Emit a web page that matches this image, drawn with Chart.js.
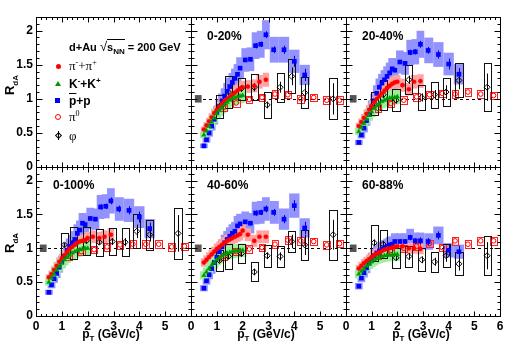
<!DOCTYPE html>
<html>
<head>
<meta charset="utf-8">
<script src="https://cdn.jsdelivr.net/npm/chart.js@4.4.1/dist/chart.umd.min.js"></script>
<style>
  body { margin: 0; background: #fff; }
  #wrap { position: relative; width: 515px; height: 348px; overflow: hidden; font-family: 'Liberation Sans', Arial, sans-serif; }
  canvas { position: absolute; left: 0; top: 0; }
  .t { position: absolute; font-weight: bold; font-size: 12px; line-height: 12px; white-space: nowrap; color: #000; }
  .sym { font-family: 'Liberation Serif', 'Times New Roman', serif; font-weight: normal; font-size: 13px; }
  .t sub, .t sup { font-size: 8px; line-height: 0; }
  .mk { position: absolute; box-sizing: border-box; }
</style>
</head>
<body>
<div id="wrap">
  <canvas id="c0" width="515" height="348"></canvas>
  <canvas id="c1" width="515" height="348"></canvas>
  <canvas id="c2" width="515" height="348"></canvas>
  <canvas id="c3" width="515" height="348"></canvas>
  <canvas id="c4" width="515" height="348"></canvas>
  <canvas id="c5" width="515" height="348"></canvas>

  <!-- legend in the empty top-left pad -->
  <div class="t" style="left:69px;top:41px;font-size:11px;">d+Au <span style="font-weight:normal;font-size:13px;">&#8730;</span><span style="border-top:1px solid #000;padding-top:1px;">s<sub>NN</sub></span> = 200 GeV</div>
  <div class="mk" style="left:56px;top:64px;width:5px;height:5px;border-radius:50%;background:#f00;"></div>
  <div class="t sym" style="left:69px;top:60px;">&pi;<sup>-</sup>+&pi;<sup>+</sup></div>
  <div class="mk" style="left:55px;top:81px;width:0;height:0;border-left:3px solid transparent;border-right:3px solid transparent;border-bottom:5px solid #009a00;"></div>
  <div class="t" style="left:69px;top:78px;">K<sup>-</sup>+K<sup>+</sup></div>
  <div class="mk" style="left:55px;top:98px;width:5px;height:5px;background:#00f;"></div>
  <div class="t" style="left:69px;top:95px;"><span style="text-decoration:overline;">p</span>+p</div>
  <div class="mk" style="left:55px;top:114px;width:6px;height:6px;border-radius:50%;border:1px solid #f00;"></div>
  <div class="t sym" style="left:69px;top:111px;">&pi;<sup>0</sup></div>
  <div class="mk" style="left:56px;top:133px;width:5px;height:5px;border:1px solid #000;transform:rotate(45deg);"></div>
  <div class="mk" style="left:58px;top:131px;width:1px;height:9px;background:#000;"></div>
  <div class="t sym" style="left:69px;top:130px;">&phi;</div>

  <!-- centrality labels -->
  <div class="t" style="left:207px;top:30px;">0-20%</div>
  <div class="t" style="left:362px;top:30px;">20-40%</div>
  <div class="t" style="left:53px;top:179px;">0-100%</div>
  <div class="t" style="left:207px;top:179px;">40-60%</div>
  <div class="t" style="left:362px;top:179px;">60-88%</div>

  <!-- axis titles -->
  <div class="t" style="left:10px;top:85px;font-size:13px;transform:translate(-50%,-50%) rotate(-90deg);">R<sub>dA</sub></div>
  <div class="t" style="left:10px;top:243px;font-size:13px;transform:translate(-50%,-50%) rotate(-90deg);">R<sub>dA</sub></div>
  <div class="t" style="left:111px;top:328px;transform:translateX(-50%);">p<sub>T</sub> (GeV/c)</div>
  <div class="t" style="left:266px;top:328px;transform:translateX(-50%);">p<sub>T</sub> (GeV/c)</div>
  <div class="t" style="left:421px;top:328px;transform:translateX(-50%);">p<sub>T</sub> (GeV/c)</div>
</div>

<script>
// tick labels
const xTicks = [0, 1, 2, 3, 4, 5, 6];
const yTicks = [0, 0.5, 1, 1.5, 2];

// pT bins (GeV/c)
const ptPion = [0.5, 0.6, 0.7, 0.8, 0.9, 1.0, 1.1, 1.2, 1.3, 1.4, 1.5, 1.6, 1.7, 1.8, 1.9, 2.0, 2.2, 2.45, 2.65, 2.9];
const ptKaon = [0.5, 0.6, 0.7, 0.8, 0.9, 1.0, 1.1, 1.2, 1.3, 1.4, 1.5, 1.6, 1.7, 1.8, 1.9, 2.0];
const ptProton = [0.5, 0.6, 0.7, 0.8, 0.9, 1.0, 1.1, 1.2, 1.3, 1.4, 1.5, 1.6, 1.7, 1.8, 1.9, 2.1, 2.3, 2.5, 2.7, 2.9, 3.2, 3.6, 4.0, 4.4];
const ptPi0 = [1.25, 1.75, 2.25, 2.75, 3.25, 3.75, 4.25, 4.75, 5.25, 5.75];
const ptPhi = [1.1, 1.45, 1.95, 2.45, 2.95, 3.45, 3.9, 4.4, 5.5];

// 0-20%
const pi020 = [0.55, 0.61, 0.67, 0.73, 0.79, 0.84, 0.89, 0.93, 0.97, 1.00, 1.03, 1.06, 1.09, 1.12, 1.15, 1.17, 1.18, 1.19, 1.25, 1.28];
const k020 = [0.47, 0.53, 0.60, 0.66, 0.72, 0.78, 0.83, 0.87, 0.91, 0.95, 0.98, 1.00, 1.02, 1.03, 1.04, 1.05];
const p020 = [0.31, 0.40, 0.50, 0.60, 0.70, 0.80, 0.89, 0.97, 1.04, 1.11, 1.18, 1.24, 1.30, 1.36, 1.45, 1.57, 1.58, 1.78, 1.80, 1.94, 1.72, 1.72, 1.55, 1.35];
const pi0020 = [0.87, 0.94, 0.99, 1.02, 1.07, 1.06, 1.00, 1.02, 0.98, 0.98];
const phi020 = [0.89, 1.10, 1.15, 1.17, 0.91, 1.17, 1.33, 1.09, 1.00];
const phiSys020 = [0.17, 0.23, 0.16, 0.19, 0.19, 0.21, 0.25, 0.23, 0.30];
const phiStat020 = [0.04, 0.05, 0.05, 0.06, 0.05, 0.08, 0.13, 0.13, 0.23];

// 20-40%
const pi2040 = [0.60, 0.66, 0.72, 0.78, 0.84, 0.89, 0.95, 1.00, 1.04, 1.08, 1.12, 1.16, 1.19, 1.22, 1.24, 1.25, 1.20, 1.14, 1.25, 1.26];
const k2040 = [0.52, 0.58, 0.64, 0.70, 0.76, 0.81, 0.86, 0.90, 0.93, 0.96, 0.98, 1.00, 1.01, 1.02, 1.02, 1.03];
const p2040 = [0.36, 0.47, 0.57, 0.68, 0.77, 0.88, 0.97, 1.08, 1.17, 1.23, 1.28, 1.33, 1.38, 1.44, 1.42, 1.54, 1.52, 1.68, 1.69, 1.80, 1.71, 1.65, 1.51, 1.36];
const pi02040 = [0.86, 0.93, 0.98, 1.03, 1.06, 1.08, 1.07, 1.10, 1.07, 1.05];
const phi2040 = [0.93, 1.06, 0.98, 1.28, 1.02, 1.06, 1.10, 1.27, 1.17];
const phiSys2040 = [0.17, 0.22, 0.16, 0.21, 0.18, 0.19, 0.21, 0.25, 0.35];
const phiStat2040 = [0.04, 0.05, 0.05, 0.06, 0.06, 0.07, 0.10, 0.13, 0.20];

// 0-100%
const pi0100 = [0.57, 0.62, 0.68, 0.74, 0.80, 0.85, 0.90, 0.95, 0.99, 1.02, 1.05, 1.08, 1.10, 1.11, 1.12, 1.15, 1.17, 1.15, 1.17, 1.20];
const k0100 = [0.50, 0.56, 0.62, 0.68, 0.73, 0.78, 0.83, 0.87, 0.90, 0.93, 0.95, 0.97, 0.98, 0.99, 1.00, 1.00];
const p0100 = [0.35, 0.46, 0.55, 0.63, 0.72, 0.80, 0.88, 0.97, 1.03, 1.08, 1.13, 1.22, 1.27, 1.37, 1.35, 1.44, 1.43, 1.61, 1.62, 1.70, 1.58, 1.56, 1.46, 1.29];
const pi00100 = [0.88, 0.95, 0.98, 1.02, 1.05, 1.06, 1.06, 1.06, 1.02, 1.03];
const phi0100 = [1.05, 1.08, 1.11, 1.09, 1.10, 1.09, 1.25, 1.20, 1.22];
const phiSys0100 = [0.17, 0.24, 0.21, 0.20, 0.20, 0.21, 0.25, 0.22, 0.38];
const phiStat0100 = [0.03, 0.04, 0.04, 0.04, 0.05, 0.06, 0.10, 0.10, 0.27];

// 40-60%
const pi4060 = [0.79, 0.83, 0.87, 0.91, 0.95, 0.99, 1.02, 1.05, 1.08, 1.11, 1.13, 1.15, 1.17, 1.19, 1.21, 1.26, 1.20, 1.11, 1.17, 1.17];
const k4060 = [0.60, 0.65, 0.70, 0.75, 0.79, 0.83, 0.86, 0.89, 0.91, 0.93, 0.94, 0.95, 0.96, 0.96, 0.97, 0.97];
const p4060 = [0.41, 0.52, 0.61, 0.70, 0.79, 0.87, 0.95, 1.02, 1.08, 1.13, 1.18, 1.22, 1.25, 1.33, 1.36, 1.39, 1.37, 1.52, 1.53, 1.58, 1.53, 1.43, 1.63, 1.30];
const pi04060 = [0.88, 0.95, 0.99, 1.01, 1.06, 1.12, 1.11, 1.10, 1.05, 1.07];
const phi4060 = [0.82, 0.88, 0.92, 0.65, 0.89, 0.88, 1.10, 1.05, 1.20];
const phiSys4060 = [0.15, 0.18, 0.14, 0.14, 0.16, 0.16, 0.15, 0.22, 0.37];
const phiStat4060 = [0.03, 0.04, 0.04, 0.05, 0.05, 0.06, 0.10, 0.15, 0.22];

// 60-88%
const pi6088 = [0.70, 0.74, 0.78, 0.81, 0.84, 0.87, 0.90, 0.92, 0.94, 0.96, 0.98, 0.99, 1.00, 1.01, 1.02, 1.03, 1.03, 1.00, 1.00, 0.99];
const k6088 = [0.62, 0.66, 0.70, 0.74, 0.77, 0.80, 0.83, 0.85, 0.87, 0.88, 0.89, 0.90, 0.90, 0.90, 0.91, 0.91];
const p6088 = [0.44, 0.56, 0.64, 0.71, 0.78, 0.84, 0.89, 0.93, 0.96, 0.99, 1.01, 1.03, 1.05, 1.06, 1.10, 1.10, 1.10, 1.16, 1.11, 1.11, 1.10, 1.19, 0.97, 0.95];
const pi06088 = [0.90, 0.97, 1.00, 1.03, 1.07, 1.01, 1.11, 1.06, 1.11, 1.11];
const phi6088 = [1.08, 1.06, 0.86, 0.88, 0.83, 0.80, 0.89, 0.77, 0.89];
const phiSys6088 = [0.27, 0.21, 0.15, 0.15, 0.17, 0.15, 0.17, 0.17, 0.29];
const phiStat6088 = [0.05, 0.05, 0.04, 0.05, 0.05, 0.06, 0.09, 0.10, 0.20];

// proton stat errors (same bins as ptProton)
const pStat = [0, 0, 0, 0, 0, 0, 0, 0, 0, 0, 0, 0, 0, 0, 0.02, 0.03, 0.03, 0.04, 0.04, 0.05, 0.05, 0.06, 0.08, 0.09];

// relative systematics of the bands, pi0 box size, normalisation box
const sysRelPion = 0.08, sysRelKaon = 0.10, sysRelProton = 0.11;
const sysPi0 = 0.055;
const normBox = { x: 0.28, dx: 0.13, dy: 0.055 };

// pad layout
const colEdges = [36, 191, 346, 500];
const rowEdges = [17, 167, 316];

const pts = (xs, ys) => xs.map((x, i) => ({ x, y: ys[i] }));

function halfEdges(xs, i, minHalf) {
  const left = i > 0 ? (xs[i] - xs[i - 1]) / 2 : minHalf;
  const right = i < xs.length - 1 ? (xs[i + 1] - xs[i]) / 2 : left;
  return [xs[i] - Math.max(left, minHalf), xs[i] + Math.max(right, minHalf)];
}

// bands, boxes, unity line, error bars
const boxPlugin = {
  id: 'boxes',
  beforeDatasetsDraw(chart) {
    const { ctx, chartArea: a, scales: { x, y } } = chart;
    if (!chart.options.plugins.boxes.show) return;
    ctx.save();
    ctx.beginPath();
    ctx.rect(a.left, a.top, a.width, a.height);
    ctx.clip();

    // R = 1 reference
    ctx.strokeStyle = '#000';
    ctx.lineWidth = 1;
    ctx.setLineDash([3, 3]);
    const y1 = Math.round(y.getPixelForValue(1)) + 0.5;
    ctx.beginPath();
    ctx.moveTo(a.left, y1);
    ctx.lineTo(a.right, y1);
    ctx.stroke();
    ctx.setLineDash([]);

    // normalisation uncertainty
    ctx.fillStyle = '#555';
    const nx0 = x.getPixelForValue(normBox.x - normBox.dx), nx1 = x.getPixelForValue(normBox.x + normBox.dx);
    const ny0 = y.getPixelForValue(1 + normBox.dy), ny1 = y.getPixelForValue(1 - normBox.dy);
    ctx.fillRect(nx0, ny0, nx1 - nx0, ny1 - ny0);

    const sets = chart.data.datasets.filter(ds => ds.box).sort((p, q) => p.box.layer - q.box.layer);
    sets.forEach(ds => {
      const b = ds.box;
      const xs = ds.data.map(d => d.x);
      ds.data.forEach((d, i) => {
        const [lo, hi] = b.half ? [d.x - b.half, d.x + b.half] : halfEdges(xs, i, b.minHalf);
        const s = b.sys ? b.sys[i] : (b.abs !== undefined ? b.abs : d.y * b.rel);
        let px0 = x.getPixelForValue(lo), px1 = x.getPixelForValue(hi);
        let py0 = y.getPixelForValue(d.y + s), py1 = y.getPixelForValue(d.y - s);
        if (b.fill) {
          ctx.fillStyle = b.fill;
          ctx.fillRect(px0, py0, px1 - px0, py1 - py0);
        } else {
          px0 = Math.round(px0) + 0.5; px1 = Math.round(px1) + 0.5;
          py0 = Math.round(py0) + 0.5; py1 = Math.round(py1) + 0.5;
          ctx.strokeStyle = b.stroke;
          ctx.lineWidth = 1;
          ctx.strokeRect(px0, py0, px1 - px0, py1 - py0);
        }
      });
    });

    // statistical error bars
    chart.data.datasets.filter(ds => ds.stat).forEach(ds => {
      ctx.strokeStyle = ds.statColor;
      ctx.lineWidth = 1;
      ds.data.forEach((d, i) => {
        const e = ds.stat[i];
        if (!e) return;
        const px = Math.round(x.getPixelForValue(d.x)) + 0.5;
        ctx.beginPath();
        ctx.moveTo(px, y.getPixelForValue(d.y + e));
        ctx.lineTo(px, y.getPixelForValue(d.y - e));
        ctx.stroke();
      });
    });
    ctx.restore();
  }
};

// frame with ticks on all four sides, pointing inwards
const framePlugin = {
  id: 'frame',
  afterDraw(chart) {
    const { ctx, chartArea: a, scales: { x, y } } = chart;
    const L = Math.round(a.left) + 0.5, R = Math.round(a.right) + 0.5;
    const T = Math.round(a.top) + 0.5, B = Math.round(a.bottom) + 0.5;
    ctx.save();
    ctx.strokeStyle = '#000';
    ctx.lineWidth = 1;
    ctx.strokeRect(L, T, R - L, B - T);
    ctx.beginPath();
    for (let i = 0; i <= 30; i++) {
      const px = Math.round(x.getPixelForValue(i / 5)) + 0.5;
      const len = i % 5 === 0 ? 5 : 2.5;
      ctx.moveTo(px, B); ctx.lineTo(px, B - len);
      ctx.moveTo(px, T); ctx.lineTo(px, T + len);
    }
    for (let i = 0; i <= 22; i++) {
      const py = Math.round(y.getPixelForValue(i / 10)) + 0.5;
      const len = i % 5 === 0 ? 6 : 3;
      ctx.moveTo(L, py); ctx.lineTo(L + len, py);
      ctx.moveTo(R, py); ctx.lineTo(R - len, py);
    }
    ctx.stroke();
    ctx.restore();
  }
};

function datasetsFor(d) {
  return [
    {
      label: 'K-+K+', data: pts(ptKaon, d.k),
      pointStyle: 'triangle', pointRadius: 2.6, pointBorderWidth: 0.5,
      pointBackgroundColor: '#009a00', pointBorderColor: '#009a00',
      box: { rel: sysRelKaon, minHalf: 0.15, fill: '#9dee9d', layer: 2 }
    },
    {
      label: 'pi-+pi+', data: pts(ptPion, d.pi),
      pointStyle: 'circle', pointRadius: 2.1, pointBorderWidth: 0.5,
      pointBackgroundColor: '#ff0000', pointBorderColor: '#ff0000',
      box: { rel: sysRelPion, minHalf: 0.12, fill: '#ffa2a2', layer: 1 }
    },
    {
      label: 'pbar+p', data: pts(ptProton, d.p),
      pointStyle: 'rect', pointRadius: 3.3, pointBorderWidth: 0,
      pointBackgroundColor: '#0000ff', pointBorderColor: '#0000ff',
      box: { rel: sysRelProton, minHalf: 0.15, fill: '#9393ff', layer: 0 },
      stat: pStat, statColor: '#0000c0'
    },
    {
      label: 'pi0', data: pts(ptPi0, d.pi0),
      pointStyle: 'circle', pointRadius: 2.3, pointBorderWidth: 1,
      pointBackgroundColor: 'rgba(0,0,0,0)', pointBorderColor: '#ff0000',
      box: { abs: sysPi0, half: 0.13, stroke: '#ff2020', layer: 3 }
    },
    {
      label: 'phi', data: pts(ptPhi, d.phi),
      pointStyle: 'rectRot', pointRadius: 3, pointBorderWidth: 1,
      pointBackgroundColor: 'rgba(0,0,0,0)', pointBorderColor: '#000',
      box: { sys: d.phiSys, half: 0.14, stroke: '#111', layer: 4 },
      stat: d.phiStat, statColor: '#000'
    }
  ];
}

const pads = [
  { canvas: 'c0', col: 0, row: 0, legendOnly: true },
  { canvas: 'c1', col: 1, row: 0, pi: pi020, k: k020, p: p020, pi0: pi0020, phi: phi020, phiSys: phiSys020, phiStat: phiStat020 },
  { canvas: 'c2', col: 2, row: 0, pi: pi2040, k: k2040, p: p2040, pi0: pi02040, phi: phi2040, phiSys: phiSys2040, phiStat: phiStat2040 },
  { canvas: 'c3', col: 0, row: 1, pi: pi0100, k: k0100, p: p0100, pi0: pi00100, phi: phi0100, phiSys: phiSys0100, phiStat: phiStat0100 },
  { canvas: 'c4', col: 1, row: 1, pi: pi4060, k: k4060, p: p4060, pi0: pi04060, phi: phi4060, phiSys: phiSys4060, phiStat: phiStat4060 },
  { canvas: 'c5', col: 2, row: 1, pi: pi6088, k: k6088, p: p6088, pi0: pi06088, phi: phi6088, phiSys: phiSys6088, phiStat: phiStat6088 }
];

const tickFont = { family: "'Liberation Sans', Arial, sans-serif", weight: 'bold', size: 12 };

pads.forEach(pad => {
  const showX = pad.row === 1;
  const showY = pad.col === 0;
  const xLabels = pad.col === 2 ? xTicks : xTicks.filter(v => v < 6);
  // the axis that carries labels takes the margin, so its labels are not clipped away
  const leftSpace = colEdges[pad.col];
  const bottomSpace = 348 - rowEdges[pad.row + 1];
  new Chart(document.getElementById(pad.canvas), {
    type: 'scatter',
    data: { datasets: pad.legendOnly ? [] : datasetsFor(pad) },
    options: {
      responsive: false,
      animation: false,
      devicePixelRatio: 1,
      events: [],
      layout: {
        padding: {
          left: showY ? 0 : leftSpace,
          right: 515 - colEdges[pad.col + 1],
          top: rowEdges[pad.row],
          bottom: showX ? 0 : bottomSpace
        }
      },
      plugins: {
        legend: { display: false },
        tooltip: { enabled: false },
        boxes: { show: !pad.legendOnly }
      },
      scales: {
        x: {
          type: 'linear', min: 0, max: 6,
          grid: { display: false, drawTicks: false }, border: { display: false },
          afterBuildTicks: s => { s.ticks = xLabels.map(v => ({ value: v })); },
          afterFit: s => { s.height = showX ? bottomSpace : 0; },
          ticks: { display: showX, autoSkip: false, padding: 3, color: '#000', font: tickFont, maxRotation: 0, callback: v => String(v) }
        },
        y: {
          type: 'linear', min: 0, max: 2.2,
          grid: { display: false, drawTicks: false }, border: { display: false },
          afterBuildTicks: s => { s.ticks = yTicks.map(v => ({ value: v })); },
          afterFit: s => { s.width = showY ? leftSpace : 0; },
          ticks: { display: showY, autoSkip: false, padding: 3, color: '#000', font: tickFont, callback: v => String(v) }
        }
      }
    },
    plugins: [boxPlugin, framePlugin]
  });
});
</script>
</body>
</html>
